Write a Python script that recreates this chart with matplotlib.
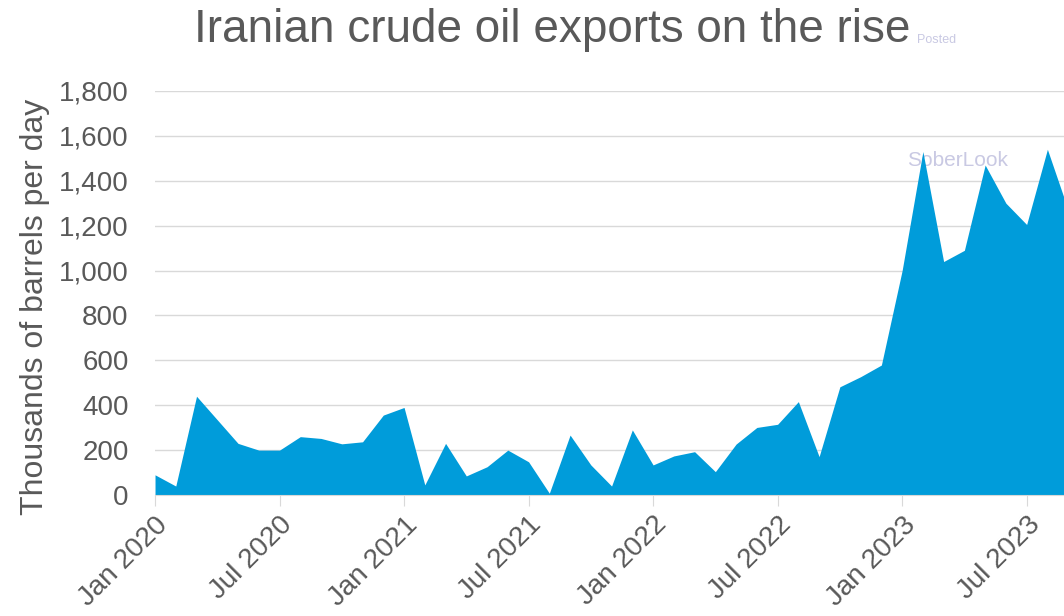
import matplotlib.pyplot as plt
import numpy as np

# monthly exports, Jan 2020 .. Sep 2023 (thousand barrels per day)
months = ['Jan 2020', 'Feb 2020', 'Mar 2020', 'Apr 2020', 'May 2020', 'Jun 2020',
          'Jul 2020', 'Aug 2020', 'Sep 2020', 'Oct 2020', 'Nov 2020', 'Dec 2020',
          'Jan 2021', 'Feb 2021', 'Mar 2021', 'Apr 2021', 'May 2021', 'Jun 2021',
          'Jul 2021', 'Aug 2021', 'Sep 2021', 'Oct 2021', 'Nov 2021', 'Dec 2021',
          'Jan 2022', 'Feb 2022', 'Mar 2022', 'Apr 2022', 'May 2022', 'Jun 2022',
          'Jul 2022', 'Aug 2022', 'Sep 2022', 'Oct 2022', 'Nov 2022', 'Dec 2022',
          'Jan 2023', 'Feb 2023', 'Mar 2023', 'Apr 2023', 'May 2023', 'Jun 2023',
          'Jul 2023', 'Aug 2023', 'Sep 2023']
exports = [90, 40, 440, 335, 230, 200,
           200, 260, 252, 228, 237, 356,
           390, 45, 230, 85, 126, 200,
           148, 8, 267, 134, 40, 290,
           134, 174, 193, 104, 227, 301,
           315, 416, 171, 482, 527, 579,
           1000, 1530, 1040, 1090, 1470, 1300,
           1205, 1540, 1270]

tick_labels = ['Jan 2020', 'Jul 2020', 'Jan 2021', 'Jul 2021',
               'Jan 2022', 'Jul 2022', 'Jan 2023', 'Jul 2023']

plt.rcParams['font.family'] = ['Liberation Sans', 'DejaVu Sans']

x = np.arange(len(months))
text_col = '#595959'

fig = plt.figure(figsize=(10.64, 6.16), dpi=100)
ax = fig.add_axes([0.1457, 0.1964, 0.8543, 0.656])

# watermark sits behind the area
ax.text(0.827, 0.829, 'SoberLook', transform=ax.transAxes, fontsize=15,
        color='#c9c9e3', va='center', zorder=1)

ax.fill_between(x, exports, 0, color='#009cda', linewidth=0, zorder=2)

ax.set_xlim(0, 43.8)
ax.set_ylim(0, 1800)
ax.set_yticks(np.arange(0, 1801, 200))
ax.set_yticklabels([f'{v:,}' for v in range(0, 1801, 200)])
ax.set_xticks([months.index(t) for t in tick_labels])
ax.set_xticklabels(tick_labels, rotation=45, ha='right', va='top',
                   rotation_mode='anchor')

ax.grid(axis='y', color='#d9d9d9', linewidth=1)
ax.set_axisbelow(True)
for s in ['top', 'right', 'left']:
    ax.spines[s].set_visible(False)
ax.spines['bottom'].set_color('#d9d9d9')
ax.spines['bottom'].set_zorder(3)

ax.tick_params(axis='y', length=0, pad=19, labelsize=20, labelcolor=text_col)
ax.tick_params(axis='x', length=8, color='#d9d9d9', pad=4, labelsize=20,
               labelcolor=text_col)

ax.set_ylabel('Thousands of barrels per day', fontsize=23, color=text_col)
ax.yaxis.set_label_coords(-0.116, 0.465)

fig.text(0.519, 0.952, 'Iranian crude oil exports on the rise', ha='center',
         va='center', fontsize=33, color=text_col)
fig.text(0.862, 0.935, 'Posted', fontsize=9, color='#c9c9e3', ha='left',
         va='center')

plt.savefig('out.png', dpi=100)
